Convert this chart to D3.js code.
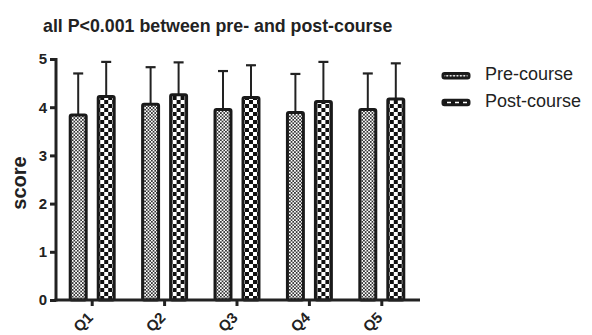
<!DOCTYPE html>
<html><head><meta charset="utf-8">
<script src="https://cdn.jsdelivr.net/npm/d3@7"></script>
<style>body{margin:0;background:#fff}svg{display:block}text{font-family:"Liberation Sans",Arial,sans-serif;fill:#222}</style>
</head><body>
<script>
const categories = ["Q1","Q2","Q3","Q4","Q5"];
const seriesNames = ["Pre-course","Post-course"];
const preMean = [3.84, 4.06, 3.95, 3.89, 3.95];
const preSD   = [0.86, 0.77, 0.80, 0.80, 0.75];
const postMean = [4.22, 4.26, 4.20, 4.12, 4.17];
const postSD   = [0.72, 0.67, 0.67, 0.82, 0.74];
const yTicks = [0,1,2,3,4,5];
const title = "all P<0.001 between pre- and post-course";
const yLabel = "score";

const W = 592, H = 335;
const svg = d3.select("body").append("svg").attr("width", W).attr("height", H);
const defs = svg.append("defs");
// fine checker
const p1 = defs.append("pattern").attr("id","fine").attr("patternUnits","userSpaceOnUse").attr("width",3.4).attr("height",3.4);
p1.append("rect").attr("width",3.4).attr("height",3.4).attr("fill","#fff");
p1.append("rect").attr("width",1.7).attr("height",1.7).attr("fill","#333");
p1.append("rect").attr("x",1.7).attr("y",1.7).attr("width",1.7).attr("height",1.7).attr("fill","#333");
// coarse checker
const p2 = defs.append("pattern").attr("id","coarse").attr("patternUnits","userSpaceOnUse").attr("width",8).attr("height",8);
p2.append("rect").attr("width",8).attr("height",8).attr("fill","#fff");
p2.append("rect").attr("width",4).attr("height",4).attr("fill","#111");
p2.append("rect").attr("x",4).attr("y",4).attr("width",4).attr("height",4).attr("fill","#111");

const fills = ["url(#fine)","url(#coarse)"];
const data = categories.map((c,i)=>({cat:c, vals:[
  {s:0, mean:preMean[i], sd:preSD[i]},
  {s:1, mean:postMean[i], sd:postSD[i]}]}));

const y = d3.scaleLinear().domain([0,5]).range([300,59]);
const x = d3.scaleBand().domain(categories).range([56,418]).padding(0);
const x1 = d3.scaleBand().domain([0,1]).range([-28,28]).paddingInner(0.43).paddingOuter(0.215);

svg.append("text").attr("x",43).attr("y",32).attr("font-size",17.8).attr("font-weight","bold").text(title);

// bars
const g = svg.append("g");
const cg = g.selectAll("g.cat").data(data).join("g").attr("transform",d=>`translate(${x(d.cat)+x.bandwidth()/2},0)`);
// error bars
cg.selectAll("g.err").data(d=>d.vals).join("g").each(function(d){
  const gx = x1(d.s)+x1.bandwidth()/2;
  const e = d3.select(this);
  e.append("line").attr("x1",gx).attr("x2",gx).attr("y1",y(d.mean)).attr("y2",y(d.mean+d.sd)).attr("stroke","#222").attr("stroke-width",2);
  e.append("line").attr("x1",gx-5).attr("x2",gx+5).attr("y1",y(d.mean+d.sd)).attr("y2",y(d.mean+d.sd)).attr("stroke","#222").attr("stroke-width",2.2);
});
cg.selectAll("rect").data(d=>d.vals).join("rect")
  .attr("x",d=>x1(d.s)).attr("width",x1.bandwidth())
  .attr("y",d=>y(d.mean)).attr("height",d=>y(0)-y(d.mean))
  .attr("rx",1.5)
  .attr("fill",d=>fills[d.s]).attr("stroke","#1a1a1a").attr("stroke-width",3);

// y axis
const ya = svg.append("g").attr("transform","translate(56,0)")
  .call(d3.axisLeft(y).tickValues(yTicks).tickSize(6).tickPadding(3).tickFormat(d3.format("d")));
ya.select(".domain").attr("stroke","#222").attr("stroke-width",3).attr("d",`M0,${y(5)-1}V${y(0)+1.5}`);
ya.selectAll(".tick line").attr("stroke","#222").attr("stroke-width",3);
ya.selectAll(".tick text").attr("font-size",15).attr("font-weight","bold").attr("fill","#222").attr("font-family","Liberation Sans, Arial, sans-serif");

// x axis
const xa = svg.append("g").attr("transform","translate(0,300)")
  .call(d3.axisBottom(x).tickSize(6).tickPadding(4));
xa.select(".domain").attr("stroke","#222").attr("stroke-width",3).attr("d","M54.5,0H420");
xa.selectAll(".tick line").attr("stroke","#222").attr("stroke-width",3);
xa.selectAll(".tick text").attr("font-size",15).attr("font-weight","bold").attr("fill","#222")
  .attr("font-family","Liberation Sans, Arial, sans-serif")
  .attr("text-anchor","end").attr("x",0).attr("y",0).attr("dy","0.35em")
  .attr("transform","translate(-2,15) rotate(-45)");

// y label
svg.append("text").attr("transform","translate(26,183) rotate(-90)").attr("text-anchor","middle")
  .attr("font-size",20).attr("font-weight","bold").text(yLabel);

// legend
const lg = svg.append("g").selectAll("g").data(seriesNames).join("g")
  .attr("transform",(d,i)=>`translate(443,${73.5+i*26.7})`);
lg.append("rect").attr("width",26).attr("height",4.5).attr("rx",1.5).attr("fill",(d,i)=>fills[i]).attr("stroke","#1a1a1a").attr("stroke-width",3);
lg.append("text").attr("x",42).attr("y",6.5).attr("font-size",18).text(d=>d);
</script>
</body></html>
